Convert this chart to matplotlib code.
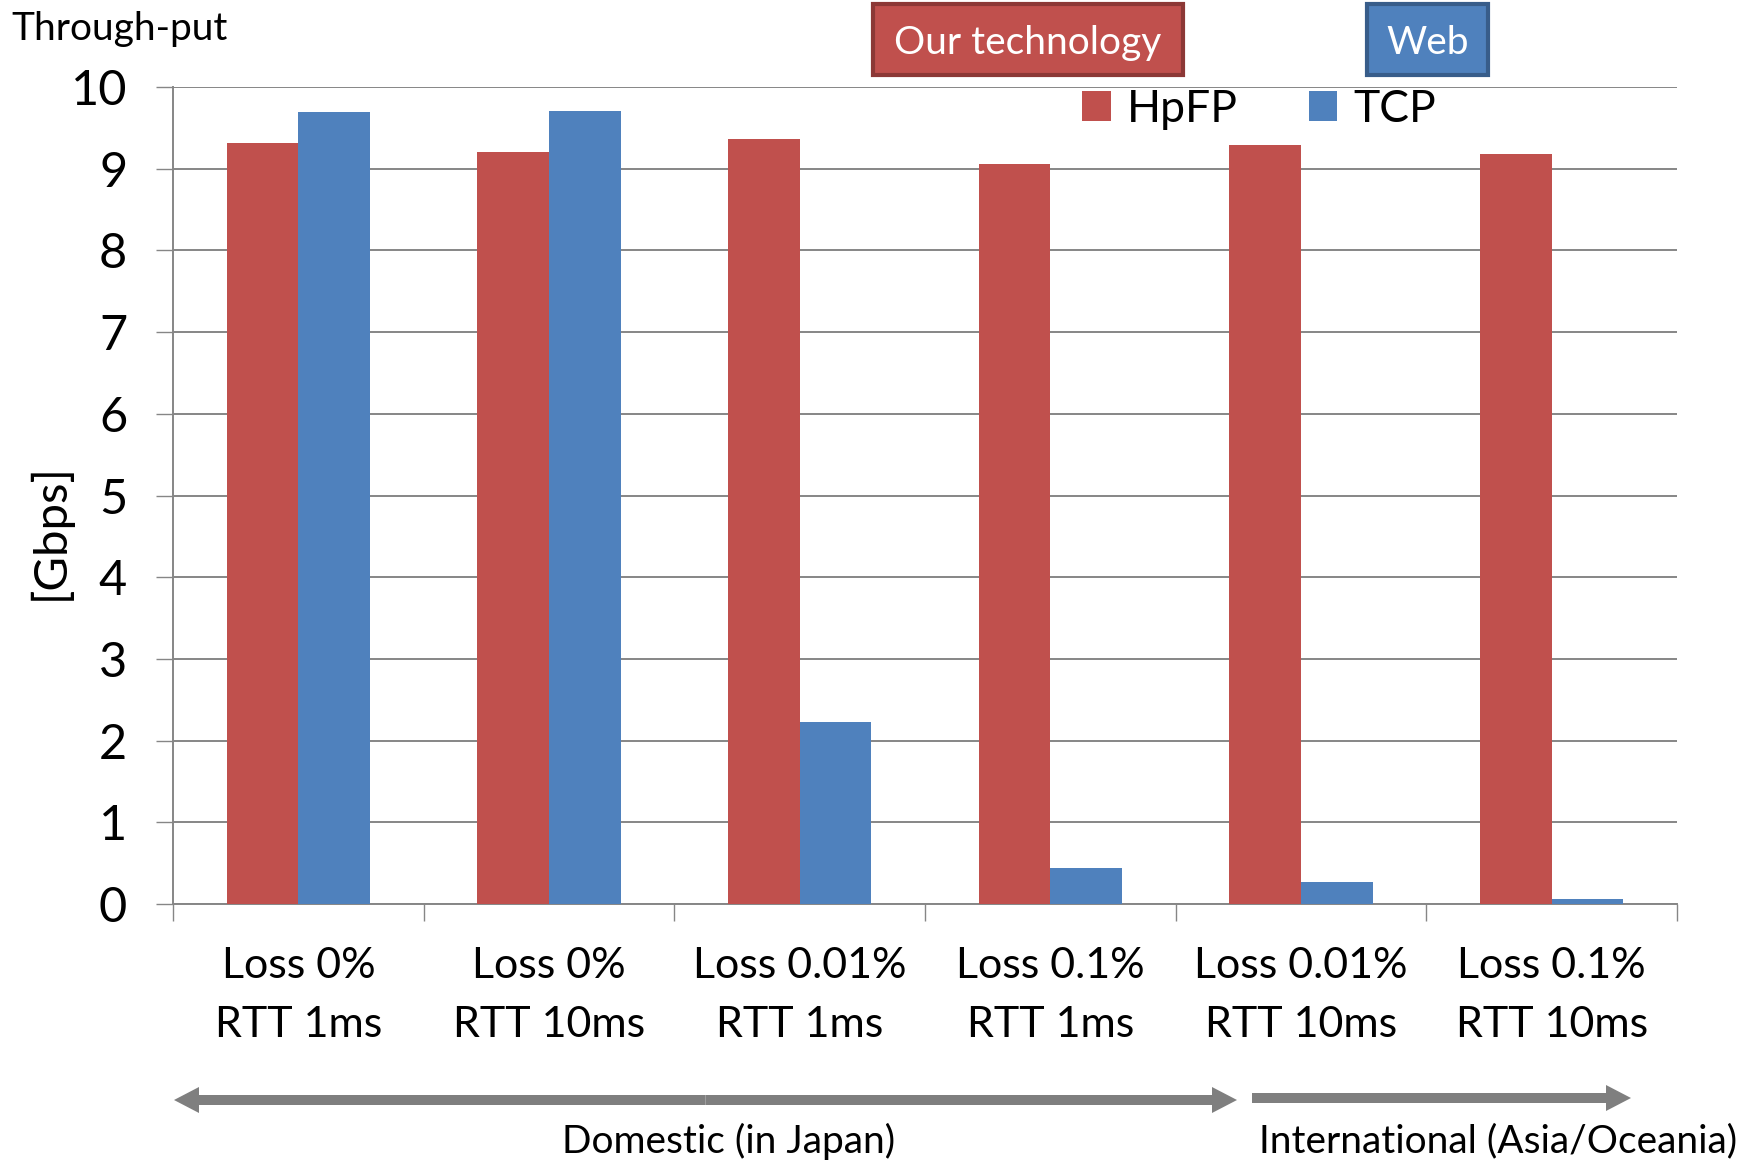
import matplotlib
matplotlib.use("Agg")
import matplotlib.pyplot as plt
import numpy as np
from matplotlib.patches import FancyArrow, Rectangle

plt.rcParams['font.family'] = ['Lato', 'DejaVu Sans']

categories = ["Loss 0%\nRTT 1ms", "Loss 0%\nRTT 10ms", "Loss 0.01%\nRTT 1ms",
              "Loss 0.1%\nRTT 1ms", "Loss 0.01%\nRTT 10ms", "Loss 0.1%\nRTT 10ms"]
hpfp = [9.31, 9.21, 9.36, 9.06, 9.29, 9.18]
tcp = [9.69, 9.71, 2.23, 0.44, 0.27, 0.06]
series_names = ["HpFP", "TCP"]
yticks = [0, 1, 2, 3, 4, 5, 6, 7, 8, 9, 10]

RED = "#C0504D"
BLUE = "#4F81BD"
GRID = "#868686"
W, H = 1758, 1161

fig = plt.figure(figsize=(W / 100, H / 100), dpi=100)

def fx(x):
    return x / W

def fy(y):
    return 1 - y / H

ax = fig.add_axes([fx(173), fy(904), fx(1677) - fx(173), fy(87) - fy(904)])

x = np.arange(len(categories))
bw = 1 / 3.5
ax.bar(x - bw / 2, hpfp, bw, color=RED, label=series_names[0], zorder=3)
ax.bar(x + bw / 2, tcp, bw, color=BLUE, label=series_names[1], zorder=3)

ax.set_xlim(-0.5, len(categories) - 0.5)
ax.set_ylim(0, 10)
ax.set_yticks(yticks)
ax.set_yticklabels([str(t) for t in yticks], fontsize=35)
ax.yaxis.grid(True, color=GRID, linewidth=1.4, zorder=0)
ax.set_axisbelow(True)

ax.set_xticks(x)
ax.set_xticklabels(categories, fontsize=31, linespacing=1.68)
ax.set_xticks(np.arange(-0.5, len(categories)), minor=True)
ax.tick_params(axis='x', which='major', length=0, pad=31)
ax.tick_params(axis='x', which='minor', length=12, width=1.0, color=GRID)
ax.tick_params(axis='y', which='major', length=12, width=1.0, color=GRID, pad=21)

for s in ['top', 'right']:
    ax.spines[s].set_visible(False)
for s in ['left', 'bottom']:
    ax.spines[s].set_color(GRID)
    ax.spines[s].set_linewidth(1.4)

ax.set_ylabel("[Gbps]", fontsize=34)
ax.yaxis.set_label_coords(fx(72), fy(532), transform=fig.transFigure)

ax.legend(ncol=2, frameon=False, loc='center left',
          bbox_to_anchor=(fx(1082), fy(109)), bbox_transform=fig.transFigure,
          fontsize=32, handlelength=0.65, handleheight=0.65,
          handletextpad=0.35, columnspacing=1.6, borderaxespad=0, borderpad=0)

fig.text(fx(11), fy(29), "Through-put", fontsize=28, ha='left', va='center')

def box(x0, y0, x1, y1, fc, ec, text):
    r = Rectangle((fx(x0), fy(y1)), fx(x1) - fx(x0), fy(y0) - fy(y1),
                  transform=fig.transFigure, facecolor=fc, edgecolor=ec, linewidth=3)
    fig.add_artist(r)
    fig.text((fx(x0) + fx(x1)) / 2, fy(43), text, color='white',
             fontsize=28, ha='center', va='center')

box(873, 4, 1183, 75, RED, "#8C3836", "Our technology")
box(1367, 4, 1488, 75, BLUE, "#385D8A", "Web")

AGRAY = "#7F7F7F"
def arrow(x0, x1, y):
    a = FancyArrow(fx(x0), fy(y), fx(x1) - fx(x0), 0, width=10 / H, head_width=26 / H,
                   head_length=25 / W, length_includes_head=True,
                   transform=fig.transFigure, color=AGRAY, linewidth=0)
    fig.add_artist(a)

mid = (174 + 1237) / 2
arrow(mid, 1237, 1100)
arrow(mid, 174, 1100)
arrow(1252, 1631, 1098)

fig.text(fx(729), fy(1141), "Domestic (in Japan)", fontsize=28, ha='center', va='center')
fig.text(fx(1498), fy(1141), "International (Asia/Oceania)", fontsize=28, ha='center', va='center')

fig.savefig("out.png", dpi=100)
